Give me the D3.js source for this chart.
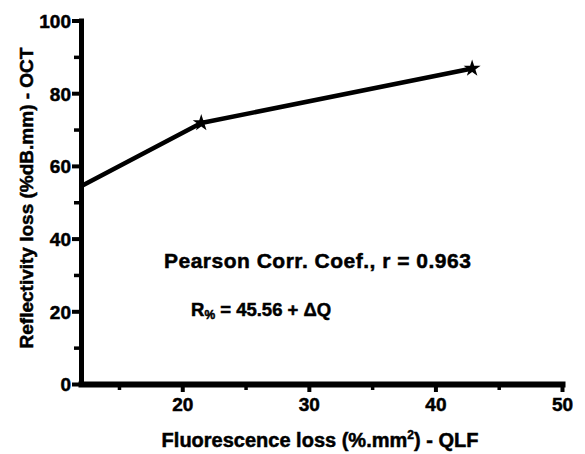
<!DOCTYPE html>
<html>
<head>
<meta charset="utf-8">
<script src="https://cdn.jsdelivr.net/npm/d3@7"></script>
<style>
  body { margin: 0; background: #fff; }
  svg text { font-family: "Liberation Sans", Arial, Helvetica, sans-serif; font-weight: bold; fill: #000; stroke: #000; stroke-width: 0.5px; }
</style>
</head>
<body>
<div id="chart"></div>
<script>
// data
const qlf = [12, 21.5, 42.9]          // Fluorescence loss (%.mm2)
const oct = [54.4, 71.8, 86.8]        // Reflectivity loss (%dB.mm)
const xMajor = [20, 30, 40, 50]
const xMinor = [15, 25, 35, 45]
const yMajor = [0, 20, 40, 60, 80, 100]
const yMinor = [10, 30, 50, 70, 90]

const width = 585
const height = 454
const margin = {top: 20.5, right: 23, bottom: 70, left: 81}

const x = d3.scaleLinear()
  .domain([12, 50])
  .range([margin.left, width - margin.right])
const y = d3.scaleLinear()
  .domain([0, 100])
  .range([height - margin.bottom, margin.top])

const svg = d3.select('#chart').append('svg')
  .attr('width', width)
  .attr('height', height)

const data = qlf.map((d, i) => ({x: d, y: oct[i]}))

// the series line
svg.append('path')
  .datum(data)
  .attr('fill', 'none')
  .attr('stroke', '#000')
  .style('stroke-width', '4.5px')
  .attr('stroke-linejoin', 'round')
  .attr('d', d3.line().x(d => x(d.x)).y(d => y(d.y)))

// star markers (the first point sits on the y axis)
svg.append('g').selectAll('path')
  .data(data.filter(d => d.x > x.domain()[0]))
  .join('path')
  .attr('transform', d => 'translate(' + x(d.x) + ',' + y(d.y) + ')')
  .attr('d', d3.symbol(d3.symbolStar, 90))
  .attr('fill', '#000')

// minor ticks
const xMinorAxis = d3.axisBottom(x).tickValues(xMinor).tickSize(6).tickFormat('')
const yMinorAxis = d3.axisLeft(y).tickValues(yMinor).tickSize(7).tickFormat('')

svg.append('g')
    .attr('transform', 'translate(0,' + y(0) + ')')
    .call(xMinorAxis)
  .call(g => g.select('.domain').remove())
  .selectAll('line').style('stroke-width', '3.5px')
svg.append('g')
    .attr('transform', 'translate(' + x(12) + ',0)')
    .call(yMinorAxis)
  .call(g => g.select('.domain').remove())
  .selectAll('line').style('stroke-width', '3.5px')

// major axes
const xAxis = d3.axisBottom(x).tickValues(xMajor).tickSize(8).tickSizeOuter(0).tickPadding(6)
const yAxis = d3.axisLeft(y).tickValues(yMajor).tickSize(9).tickSizeOuter(0).tickPadding(1)

const gx = svg.append('g')
    .attr('transform', 'translate(0,' + y(0) + ')')
    .call(xAxis)
gx.select('.domain').style('stroke-width', '6px').attr('stroke-linecap', 'square')
gx.selectAll('line').style('stroke-width', '4px')
gx.selectAll('text').style('font-size', '19px')

const gy = svg.append('g')
    .attr('transform', 'translate(' + x(12) + ',0)')
    .call(yAxis)
gy.select('.domain').style('stroke-width', '5px').attr('stroke-linecap', 'square')
gy.selectAll('line').style('stroke-width', '4px')
gy.selectAll('text').style('font-size', '19px').attr('dy', '0.36em')

// axis titles
svg.append('text')
    .attr('x', 320)
    .attr('y', 447)
    .attr('text-anchor', 'middle')
    .style('font-size', '20px')
    .text('Fluorescence loss (%.mm')
  .append('tspan')
    .attr('dy', -8)
    .style('font-size', '12px')
    .text('2')
  .select(function () { return this.parentNode })
  .append('tspan')
    .attr('dy', 8)
    .text(') - QLF')

svg.append('text')
    .attr('transform', 'translate(33,198)rotate(-90)')
    .attr('text-anchor', 'middle')
    .style('font-size', '19px')
    .text('Reflectivity loss (%dB.mm) - OCT')

// annotations
svg.append('text')
    .attr('x', 164)
    .attr('y', 268)
    .style('font-size', '21px')
    .style('letter-spacing', '0.5px')
    .text('Pearson Corr. Coef., r = 0.963')

const eq = svg.append('text')
    .attr('x', 191)
    .attr('y', 316)
    .style('font-size', '18.5px')
eq.append('tspan').text('R')
eq.append('tspan').attr('dy', 3).style('font-size', '12px').text('%')
eq.append('tspan').attr('dy', -3).text(' = 45.56 + \u0394Q')
</script>
</body>
</html>
